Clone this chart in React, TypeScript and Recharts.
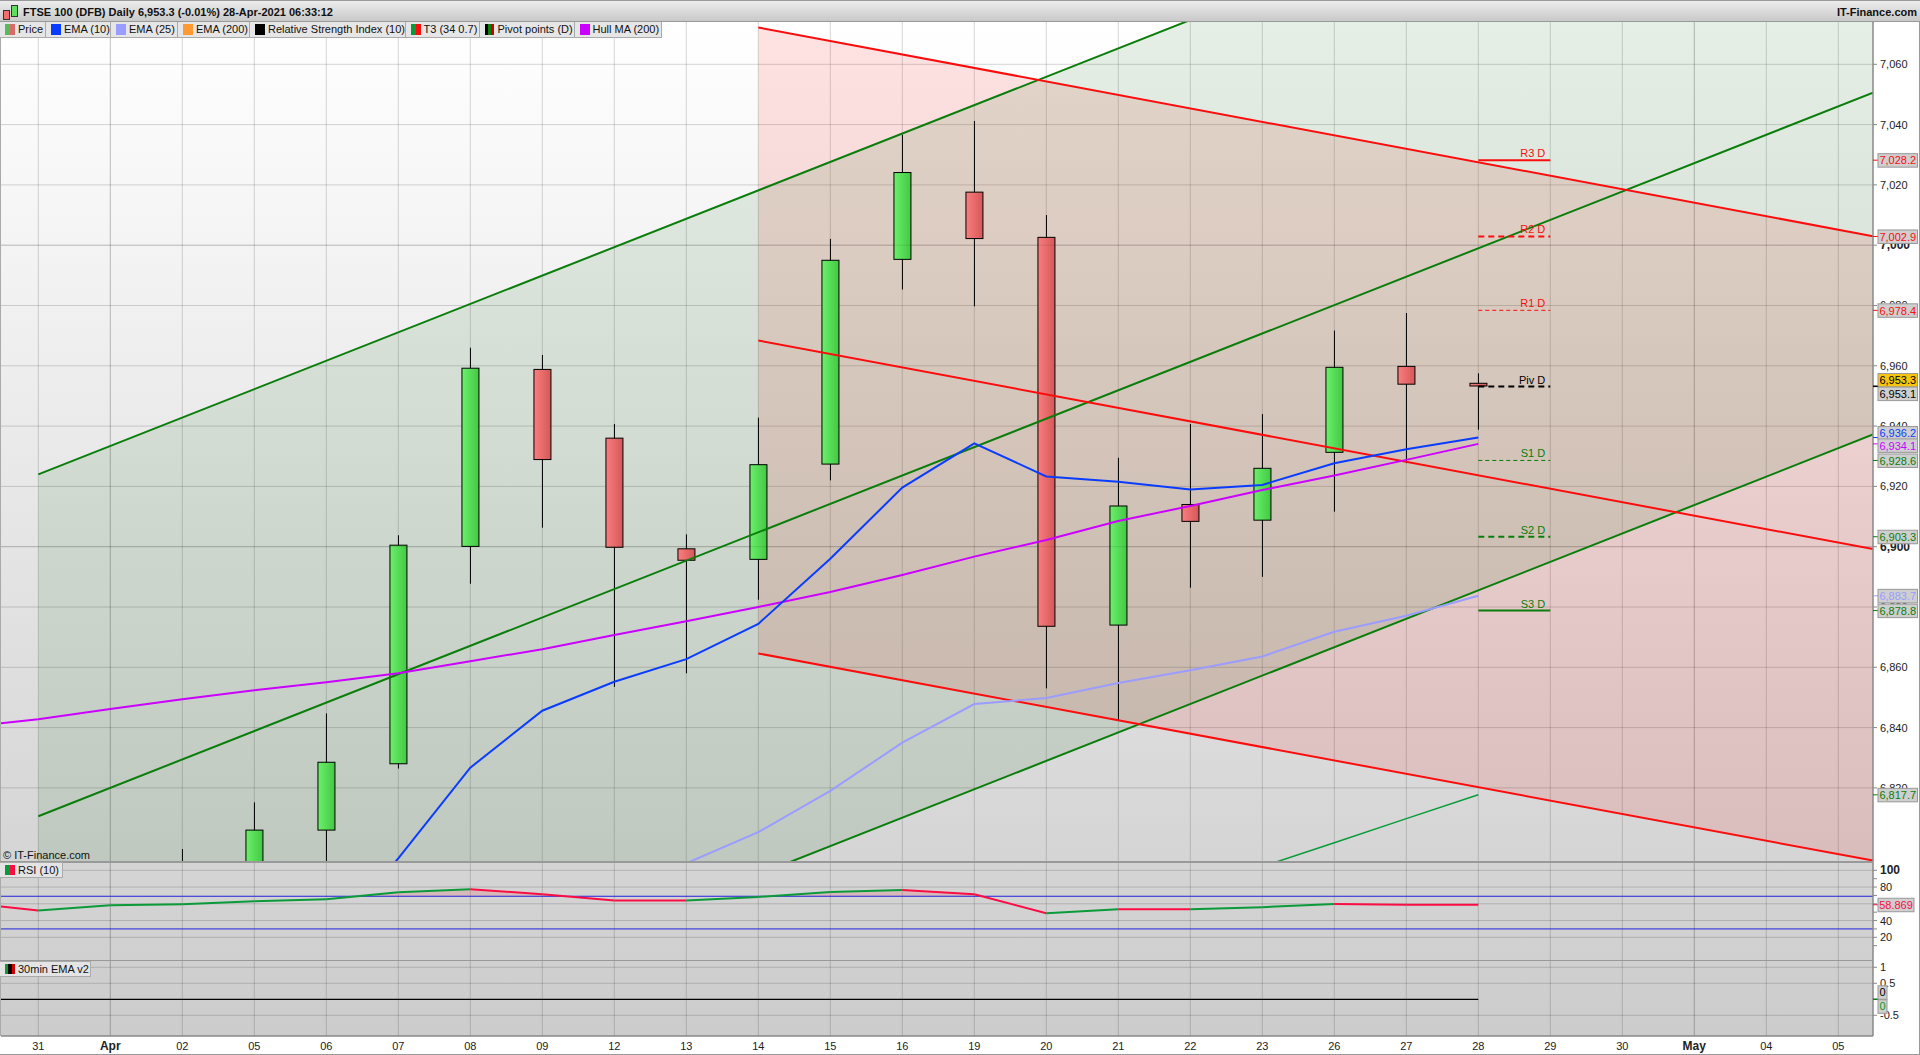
import React from "react";
import {
  ComposedChart, Bar, Line, Area, XAxis, YAxis, CartesianGrid, ReferenceLine, ReferenceDot,
} from "recharts";

const dates = ["31","Apr","02","05","06","07","08","09","12","13","14","15","16","19","20","21","22","23","26","27","28","29","30","May","04","05"];
const opens: (number|null)[] = [null,null,6775,6784,6806,6828,6900.1,6958.8,6936,6899.3,6895.8,6927.4,6995.3,7017.6,7002.6,6874,6914,6908.8,6931.3,6959.8,6954.2];
const closes: (number|null)[] = [null,null,6790,6806,6828.5,6900.5,6959.2,6928.9,6899.8,6895.5,6927.2,6995,7024.1,7002.2,6873.6,6913.5,6908.4,6926,6959.5,6953.9,6953.3];
const highs: (number|null)[] = [null,null,6799.7,6815.2,6844.7,6903.8,6966,6963.6,6940.7,6904.1,6942.8,7002.1,7036.7,7041.2,7010,6929.5,6940.7,6944,6971.7,6977.5,6957.5];
const lows: (number|null)[] = [null,null,6770,6780,6790,6826.4,6887.7,6906.3,6853.5,6858,6882.4,6922,6985.3,6979.7,6853,6842.5,6886.4,6890,6911.6,6927.7,6938.8];

const ema10X = [4,5,6,7,8,9,10,11,12,13,14,15,16,17,18,19,20];
const ema10 = [6770,6796.6,6826.7,6845.6,6855.2,6862.7,6874.4,6896,6919.6,6934.3,6923.3,6921.5,6919,6920.5,6927.7,6932.3,6936.2];
const ema25X = [8,9,10,11,12,13,14,15,16,17,18,19,20];
const ema25 = [6785,6795,6805.3,6819,6835,6847.8,6849.8,6854.8,6859,6863.6,6871.8,6877.1,6883.7];
const hullX = [-0.518,0,1,2,3,4,5,6,7,8,9,10,11,12,13,14,15,16,17,18,19,20];
const hull = [6841.4,6842.8,6846.2,6849.4,6852.4,6855,6858,6862,6866,6870.7,6875.3,6880,6885,6890.6,6896.7,6902.2,6908.5,6913.5,6918.8,6923.6,6928.8,6934.1];
const t3X = [17,18,19,20];
const t3 = [6793.9,6801.8,6809.8,6817.7];

const greenX = [0,25.482];
const greenUpper = [6924,7164];
const greenMiddle = [6810.6,7050.6];
const greenLower = [6697,6937.2];
const redX = [10,25.482];
const redUpper = [7072.2,7003];
const redMiddle = [6968.4,6899.2];
const redLower = [6864.6,6795.9];

const pivotNames = ["R3 D","R2 D","R1 D","Piv D","S1 D","S2 D","S3 D"];
const pivotValues = [7028.2,7002.9,6978.4,6953.1,6928.6,6903.3,6878.8];
const pivotX = [20,21];

const priceTicks = [7060,7040,7020,7000,6980,6960,6940,6920,6900,6880,6860,6840,6820];
const priceLabelValues = [7028.2,7002.9,6978.4,6953.3,6953.1,6936.2,6934.1,6928.6,6903.3,6883.7,6878.8,6817.7];

const rsiX = [-0.518,0,1,2,3,4,5,6,7,8,9,10,11,12,13,14,15,16,17,18,19,20];
const rsi = [56.7,51.9,58.3,59.5,63.1,65.5,73.8,77.4,71.4,63.8,63.8,68.2,74.2,76.5,71.4,48.8,53.6,53.6,56,59.9,59,58.869];
const rsiTicks = [100,90,80,70,60,50,40,30,20,10];
const rsiGrid = [100,80,60,40,20];
const rsiBands = [69,30];
const overboughtX = [4.45,5,6,7,7.25];
const overbought = [69,73.8,77.4,71.4,69];
const overboughtX2 = [10.15,11,12,13,13.12];
const overbought2 = [69,74.2,76.5,71.4,69];
const maTicks = [1,0.5,0,-0.5];

const legendItems = ["Price","EMA (10)","EMA (25)","EMA (200)","Relative Strength Index (10)","T3 (34 0.7)","Pivot points (D)","Hull MA (200)"];

// ---- styling and layout only below ----
const FONT = '"Liberation Sans", Arial, sans-serif';
const WIDTH = 1920;
const AXIS_W = 47;
const xDomain: [number, number] = [-0.518, 25.482];
const mainDomain: [number, number] = [6795.75, 7074.03];
const rsiDomain: [number, number] = [-7.1, 111.1];
const maDomain: [number, number] = [-1.147, 1.228];
const xTicks = dates.map((_, i) => i);
const margin = { top: 0, right: 0, bottom: 0, left: 1 };
const GRID = "rgba(0,0,0,0.16)";
const GRID_DARK = "rgba(0,0,0,0.1)";
const GREEN = "#0a7d0a";
const RED = "#fb0d0d";
const legendSwatches: string[][] = [["#5cb85c","#d96a6a"],["#0a3cff"],["#9a9cff"],["#ff9a33"],["#000"],["#0a9a3a","#fb0d0d"],["#000","#0a7d0a","#c00"],["#cc00ff"]];
const legendWidths = [46,65,67,72,155.5,74,95,87];
const pivotColors = [RED,RED,RED,"#000",GREEN,GREEN,GREEN];
const pivotWidths = [2,2,1,2,1,2,2];
const pivotDash = ["","6 4","4 3","6 4","4 3","6 4",""];
const labelColors = ["#fb0d0d","#fb0d0d","#fb0d0d","#000","#000","#0a3cff","#cc00ff","#0a7d0a","#0a7d0a","#9a9cff","#0a7d0a","#0a7d0a"];
const labelNudge = [0,0,0,-6,7,-4.5,1.5,0,0,0,0,0];

const pts = (xs: number[], ys: number[]) => xs.map((x, i) => ({ x, v: ys[i] }));
const band = (xs: number[], a: number[], b: number[]) => xs.map((x, i) => ({ x, range: [b[i], a[i]] }));
const candles = dates.map((d, i) => ({
  x: i, date: d, open: opens[i] ?? null, close: closes[i] ?? null,
  range: highs[i] != null ? [lows[i], highs[i]] : null,
  high: highs[i] ?? null, low: lows[i] ?? null,
}));
const rsiSegments = rsiX.slice(1).map((x, i) => ({
  rows: [{ x: rsiX[i], v: rsi[i] }, { x, v: rsi[i + 1] }],
  color: rsi[i + 1] > rsi[i] ? "#0a9a3a" : "#fb0d44",
}));

const Candle = (p: any) => {
  const { x, y, width, height, payload } = p;
  if (!payload || payload.high == null) return null;
  const at = (v: number) => y + ((payload.high - v) / (payload.high - payload.low)) * height;
  const up = payload.close >= payload.open;
  const top = at(Math.max(payload.open, payload.close));
  const bottom = at(Math.min(payload.open, payload.close));
  const cx = x + width / 2;
  return (
    <g>
      <line x1={cx} x2={cx} y1={y} y2={y + height} stroke="#000" strokeWidth={1} />
      <rect x={x} y={top} width={width} height={Math.max(bottom - top, 1)} fill={up ? "url(#candleUp)" : "url(#candleDown)"} stroke="#000" strokeWidth={1} />
    </g>
  );
};

const makeTick = (fmt: (v: number) => string, isBold: (v: number) => boolean, hidden: (v: number) => boolean = () => false) => (p: any) => {
  const v = p.payload.value;
  if (hidden(v)) return <g />;
  return (
    <text x={1880} y={p.y} dy={4} textAnchor="start" fontFamily={FONT} fontSize={isBold(v) ? 12 : 11} fontWeight={isBold(v) ? 700 : 400} fill="#222">
      {fmt(v)}
    </text>
  );
};

const PriceBox = (p: any) => {
  const { cx, cy, text, color, bg, nudge, w } = p;
  const boxX = 1878;
  const yy = cy + (nudge || 0);
  return (
    <g>
      <line x1={1873} x2={boxX} y1={cy} y2={cy} stroke={color} strokeWidth={1} />
      <rect x={boxX} y={yy - 6.5} width={w} height={13.5} fill={bg} stroke="#999" strokeWidth={1} />
      <text x={boxX + w / 2} y={yy + 4.2} textAnchor="middle" fontFamily={FONT} fontSize={11} fill={color}>{text}</text>
    </g>
  );
};

const abs = (left: number, top: number, width: number, height: number, extra: React.CSSProperties = {}): React.CSSProperties => ({
  position: "absolute", left, top, width, height, boxSizing: "border-box", ...extra,
});

// A transparent chart above the pane: same scales, holds only the value boxes, so that they cover the tick labels.
const LabelLayer = ({ top, height, plotHeight, domain, children }: any) => (
  <div style={abs(0, top, WIDTH, height, { zIndex: 2 })}>
    <ComposedChart width={WIDTH} height={height} margin={{ ...margin, bottom: height - plotHeight }} data={candles}>
      <XAxis dataKey="x" type="number" domain={xDomain} allowDataOverflow hide />
      <YAxis orientation="right" width={AXIS_W} type="number" domain={domain} allowDataOverflow tick={false} tickLine={false} axisLine={false} />
      {children}
    </ComposedChart>
  </div>
);

const PaneTag = ({ top, width, colors, text }: { top: number; width: number; colors: string[]; text: string }) => (
  <div style={abs(0, top, width, 16, { background: "#e4e4e4", border: "1px solid #aaa", borderLeft: "none", fontFamily: FONT, fontSize: 11, lineHeight: "14px", color: "#111", whiteSpace: "nowrap", zIndex: 5 })}>
    <span style={{ position: "absolute", left: 5, top: 2, display: "flex" }}>
      {colors.map((c, i) => <span key={i} style={{ width: 10 / colors.length, height: 10, background: c, display: "block" }} />)}
    </span>
    <span style={{ position: "absolute", left: 18, top: 0 }}>{text}</span>
  </div>
);

export default function App() {
  let legendLeft = 0;
  return (
    <div style={abs(0, 0, WIDTH, 1055, { background: "#fff", overflow: "hidden" })}>
      <div style={abs(1, 22, 1872, 1014, { background: "linear-gradient(#ffffff, #cccccc)" })} />

      {/* main price pane */}
      <div style={abs(0, 22, WIDTH, 839)}>
        <ComposedChart width={WIDTH} height={839} margin={margin} data={candles}>
          <defs>
            <linearGradient id="candleUp" x1="0" x2="1" y1="0" y2="0">
              <stop offset="0" stopColor="#6af06a" /><stop offset="1" stopColor="#44c844" />
            </linearGradient>
            <linearGradient id="candleDown" x1="0" x2="1" y1="0" y2="0">
              <stop offset="0" stopColor="#fb7d7d" /><stop offset="1" stopColor="#d45858" />
            </linearGradient>
          </defs>
          <CartesianGrid stroke={GRID} verticalValues={xTicks} horizontalValues={priceTicks} />
          <XAxis dataKey="x" type="number" domain={xDomain} allowDataOverflow ticks={xTicks} hide />
          <YAxis orientation="right" width={AXIS_W} type="number" domain={mainDomain} allowDataOverflow
            ticks={priceTicks} interval={0} tickSize={4} tickLine={{ stroke: "#888" }} axisLine={{ stroke: "#888", strokeWidth: 1.5 }}
            tick={makeTick((v) => v.toLocaleString("en-US"), (v) => v % 100 === 0)} />
          <ReferenceLine y={7000} stroke={GRID_DARK} />
          <ReferenceLine y={6900} stroke={GRID_DARK} />
          <ReferenceLine x={1} stroke={GRID_DARK} />
          <ReferenceLine x={23} stroke={GRID_DARK} />
          <Area data={band(redX, redUpper, redLower)} dataKey="range" type="linear" stroke="none" fill="#ff0000" fillOpacity={0.11} isAnimationActive={false} dot={false} activeDot={false} />
          <Area data={band(greenX, greenUpper, greenLower)} dataKey="range" type="linear" stroke="none" fill="#006000" fillOpacity={0.1} isAnimationActive={false} dot={false} activeDot={false} />
          <Bar dataKey="range" barSize={17} shape={Candle} isAnimationActive={false} />
          <Line data={pts(t3X, t3)} dataKey="v" stroke="#0a9a3a" strokeWidth={1.5} dot={false} activeDot={false} isAnimationActive={false} />
          {[greenUpper, greenMiddle, greenLower].map((ys, i) => (
            <Line key={"g" + i} data={pts(greenX, ys)} dataKey="v" stroke={GREEN} strokeWidth={2} dot={false} activeDot={false} isAnimationActive={false} />
          ))}
          {[redUpper, redMiddle, redLower].map((ys, i) => (
            <Line key={"r" + i} data={pts(redX, ys)} dataKey="v" stroke={RED} strokeWidth={2} dot={false} activeDot={false} isAnimationActive={false} />
          ))}
          <Line data={pts(ema25X, ema25)} dataKey="v" stroke="#9a9cff" strokeWidth={2} dot={false} activeDot={false} isAnimationActive={false} />
          <Line data={pts(hullX, hull)} dataKey="v" stroke="#cc00ff" strokeWidth={2} dot={false} activeDot={false} isAnimationActive={false} />
          <Line data={pts(ema10X, ema10)} dataKey="v" stroke="#0a3cff" strokeWidth={2} dot={false} activeDot={false} isAnimationActive={false} />
          {pivotValues.map((v, i) => (
            <Line key={"p" + i} data={pts(pivotX, [v, v])} dataKey="v" stroke={pivotColors[i]} strokeWidth={pivotWidths[i]} strokeDasharray={pivotDash[i] || undefined} dot={false} activeDot={false} isAnimationActive={false} />
          ))}
          {pivotValues.map((v, i) => (
            <ReferenceDot key={"pl" + i} x={20.93} y={v} r={0} ifOverflow="visible"
              shape={(p: any) => <text x={p.cx} y={p.cy - 3} textAnchor="end" fontFamily={FONT} fontSize={11} fill={pivotColors[i]}>{pivotNames[i]}</text>} />
          ))}
        </ComposedChart>
      </div>
      <LabelLayer top={22} height={839} plotHeight={839} domain={mainDomain}>
        {priceLabelValues.map((v, i) => (
          <ReferenceDot key={"b" + i} x={xDomain[1]} y={v} r={0} ifOverflow="visible"
            shape={(p: any) => <PriceBox cx={p.cx} cy={p.cy} text={v.toLocaleString("en-US", { minimumFractionDigits: 1 })} color={labelColors[i]} bg={i === 3 ? "#f6c511" : "#cfcfcf"} nudge={labelNudge[i]} w={39.5} />} />
        ))}
      </LabelLayer>

      {/* RSI pane */}
      <div style={abs(0, 861, WIDTH, 99)}>
        <ComposedChart width={WIDTH} height={99} margin={margin} data={candles}>
          <CartesianGrid stroke={GRID} verticalValues={xTicks} horizontalValues={rsiGrid} />
          <XAxis dataKey="x" type="number" domain={xDomain} allowDataOverflow ticks={xTicks} hide />
          <YAxis orientation="right" width={AXIS_W} type="number" domain={rsiDomain} allowDataOverflow
            ticks={rsiTicks} interval={0} tickSize={4} tickLine={{ stroke: "#888" }} axisLine={{ stroke: "#888", strokeWidth: 1.5 }}
            tick={makeTick((v) => String(v), (v) => v === 100, (v) => v % 20 !== 0)} />
          <ReferenceLine x={1} stroke={GRID_DARK} />
          <ReferenceLine x={23} stroke={GRID_DARK} />
          <Area data={band(overboughtX, overbought, overboughtX.map(() => rsiBands[0]))} dataKey="range" type="linear" stroke="none" fill="#ff0000" fillOpacity={0.12} isAnimationActive={false} dot={false} activeDot={false} />
          <Area data={band(overboughtX2, overbought2, overboughtX2.map(() => rsiBands[0]))} dataKey="range" type="linear" stroke="none" fill="#ff0000" fillOpacity={0.12} isAnimationActive={false} dot={false} activeDot={false} />
          {rsiBands.map((b) => <ReferenceLine key={b} y={b} stroke="#2222dd" strokeWidth={1} />)}
          {rsiSegments.map((s, i) => (
            <Line key={i} data={s.rows} dataKey="v" stroke={s.color} strokeWidth={2} dot={false} activeDot={false} isAnimationActive={false} />
          ))}
        </ComposedChart>
      </div>
      <LabelLayer top={861} height={99} plotHeight={99} domain={rsiDomain}>
        <ReferenceDot x={xDomain[1]} y={rsi[rsi.length - 1]} r={0} ifOverflow="visible"
          shape={(p: any) => <PriceBox cx={p.cx} cy={p.cy} text="58.869" color="#fb0d44" bg="#cfcfcf" w={36} />} />
      </LabelLayer>

      {/* 30min EMA pane with the date axis */}
      <div style={abs(0, 960, WIDTH, 94)}>
        <ComposedChart width={WIDTH} height={94} margin={margin} data={candles}>
          <CartesianGrid stroke={GRID} verticalValues={xTicks} horizontalValues={[1, 0.5, -0.5]} />
          <XAxis dataKey="x" type="number" domain={xDomain} allowDataOverflow ticks={xTicks} interval={0} height={18}
            tickLine={false} axisLine={{ stroke: "#888", strokeWidth: 1.5 }}
            tick={(p: any) => {
              const label = dates[p.payload.value];
              const bold = label === "Apr" || label === "May";
              return <text x={p.x} y={90} textAnchor="middle" fontFamily={FONT} fontSize={bold ? 12 : 11} fontWeight={bold ? 700 : 400} fill="#222">{label}</text>;
            }} />
          <YAxis orientation="right" width={AXIS_W} type="number" domain={maDomain} allowDataOverflow
            ticks={maTicks} interval={0} tickSize={4} tickLine={{ stroke: "#888" }} axisLine={{ stroke: "#888", strokeWidth: 1.5 }}
            tick={makeTick((v) => String(v), () => false)} />
          <ReferenceLine x={1} stroke={GRID_DARK} />
          <ReferenceLine x={23} stroke={GRID_DARK} />
          <Line data={pts([-0.518, 20], [0, 0])} dataKey="v" stroke="#000" strokeWidth={1.2} dot={false} activeDot={false} isAnimationActive={false} />
        </ComposedChart>
      </div>
      <LabelLayer top={960} height={94} plotHeight={76} domain={maDomain}>
        <ReferenceDot x={xDomain[1]} y={0} r={0} ifOverflow="visible"
          shape={(p: any) => <PriceBox cx={p.cx} cy={p.cy} text="0" color="#000" bg="#cfcfcf" nudge={-7} w={9} />} />
        <ReferenceDot x={xDomain[1]} y={0} r={0} ifOverflow="visible"
          shape={(p: any) => <PriceBox cx={p.cx} cy={p.cy} text="0" color="#0a9a1a" bg="#cfcfcf" nudge={7} w={9} />} />
      </LabelLayer>

      {/* frame, header and legends */}
      <div style={abs(0, 0, WIDTH, 22, { background: "linear-gradient(#ececec, #c9c9c9)", borderTop: "1px solid #999", borderBottom: "1px solid #999", zIndex: 4 })}>
        <span style={{ position: "absolute", left: 3, top: 9, width: 5, height: 8, background: "#f26d6d", border: "1px solid #333" }} />
        <span style={{ position: "absolute", left: 11, top: 4, width: 5, height: 10, background: "#5de05d", border: "1px solid #333" }} />
        <span style={{ position: "absolute", left: 23, top: 5, fontFamily: FONT, fontSize: 11, fontWeight: 700, color: "#111", whiteSpace: "nowrap", lineHeight: "13px" }}>
          FTSE 100 (DFB) Daily 6,953.3 (-0.01%) 28-Apr-2021 06:33:12
        </span>
        <span style={{ position: "absolute", right: 3, top: 5, fontFamily: FONT, fontSize: 11, fontWeight: 700, color: "#111", lineHeight: "13px" }}>IT-Finance.com</span>
      </div>
      {legendItems.map((t, i) => {
        const left = legendLeft;
        legendLeft += legendWidths[i];
        return (
          <div key={t} style={abs(left, 22, legendWidths[i], 16, { background: "#e6e6e6", borderRight: "1px solid #aaa", borderBottom: "1px solid #aaa", fontFamily: FONT, fontSize: 11, lineHeight: "15px", color: "#111", whiteSpace: "nowrap", zIndex: 5 })}>
            <span style={{ position: "absolute", left: 5, top: 2, display: "flex" }}>
              {legendSwatches[i].map((c, j) => <span key={j} style={{ width: 10 / legendSwatches[i].length, height: 11, background: c, display: "block" }} />)}
            </span>
            <span style={{ position: "absolute", left: 18, top: 0 }}>{t}</span>
          </div>
        );
      })}
      <div style={abs(3, 848, 100, 14, { fontFamily: FONT, fontSize: 11, lineHeight: "14px", color: "#111", zIndex: 5 })}>© IT-Finance.com</div>
      <div style={abs(0, 861, 1873, 1.5, { background: "#999", zIndex: 3 })} />
      <div style={abs(0, 960, 1873, 1, { background: "#999", zIndex: 3 })} />
      <PaneTag top={862} width={63} colors={["#0a9a3a", "#fb0d44"]} text="RSI (10)" />
      <PaneTag top={961} width={91} colors={["#0a9a3a", "#000", "#c00"]} text="30min EMA v2" />
      <div style={abs(0, 1054, WIDTH, 1, { background: "#999" })} />
      <div style={abs(1919, 0, 1, 1055, { background: "#999" })} />
      <div style={abs(0, 22, 1, 1014, { background: "#aaa" })} />
    </div>
  );
}
